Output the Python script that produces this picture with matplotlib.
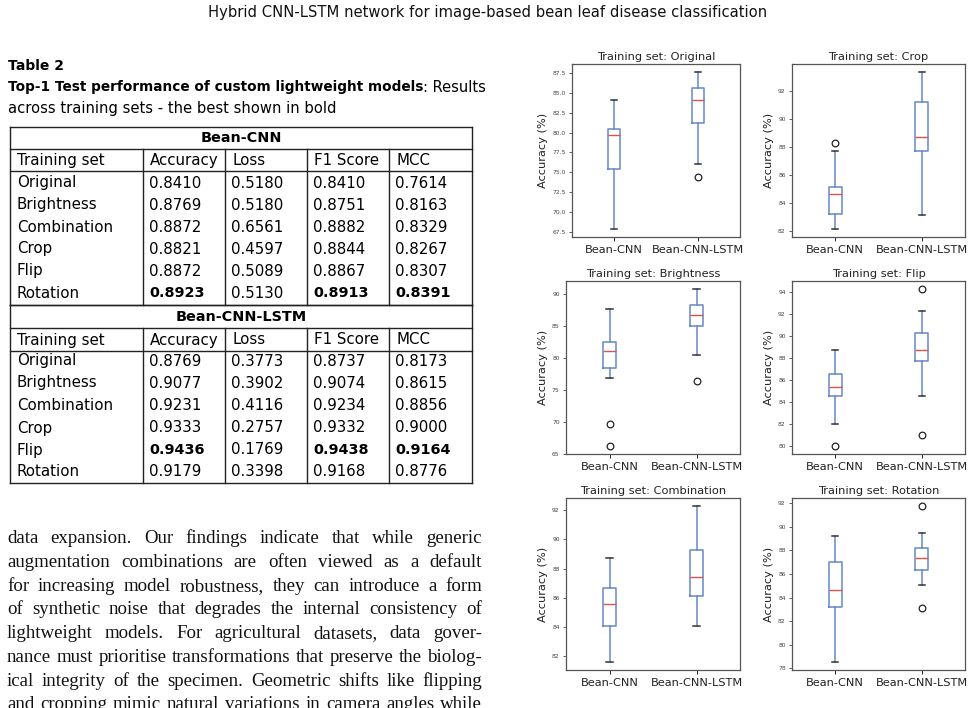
import matplotlib
matplotlib.use('Agg')
import matplotlib.pyplot as plt

W, H = 976, 708

# ---------------- text content ----------------
header = "Hybrid CNN-LSTM network for image-based bean leaf disease classification"
table_label = "Table 2"
caption_bold = "Top-1 Test performance of custom lightweight models"
caption_rest = ": Results"
caption_line2 = "across training sets - the best shown in bold"

training_sets = ["Original", "Brightness", "Combination", "Crop", "Flip", "Rotation"]
columns = ["Training set", "Accuracy", "Loss", "F1 Score", "MCC"]
cnn_accuracy = [0.8410, 0.8769, 0.8872, 0.8821, 0.8872, 0.8923]
cnn_loss = [0.5180, 0.5180, 0.6561, 0.4597, 0.5089, 0.5130]
cnn_f1 = [0.8410, 0.8751, 0.8882, 0.8844, 0.8867, 0.8913]
cnn_mcc = [0.7614, 0.8163, 0.8329, 0.8267, 0.8307, 0.8391]
lstm_accuracy = [0.8769, 0.9077, 0.9231, 0.9333, 0.9436, 0.9179]
lstm_loss = [0.3773, 0.3902, 0.4116, 0.2757, 0.1769, 0.3398]
lstm_f1 = [0.8737, 0.9074, 0.9234, 0.9332, 0.9438, 0.9168]
lstm_mcc = [0.8173, 0.8615, 0.8856, 0.9000, 0.9164, 0.8776]

body_lines = [
    "data expansion. Our findings indicate that while generic",
    "augmentation combinations are often viewed as a default",
    "for increasing model robustness, they can introduce a form",
    "of synthetic noise that degrades the internal consistency of",
    "lightweight models. For agricultural datasets, data gover-",
    "nance must prioritise transformations that preserve the biolog-",
    "ical integrity of the specimen. Geometric shifts like flipping",
    "and cropping mimic natural variations in camera angles while",
]

# ---------------- boxplot data ----------------
models = ["Bean-CNN", "Bean-CNN-LSTM"]
panel_sets = ["Original", "Crop", "Brightness", "Flip", "Combination", "Rotation"]
cnn_whislo = [67.8, 82.1, 76.9, 82.0, 81.6, 78.5]
cnn_q1 = [75.4, 83.2, 78.5, 84.6, 84.1, 83.2]
cnn_med = [79.7, 84.6, 81.1, 85.4, 85.6, 84.6]
cnn_q3 = [80.5, 85.1, 82.5, 86.6, 86.7, 87.0]
cnn_whishi = [84.1, 87.7, 87.7, 88.7, 88.7, 89.2]
cnn_fliers = [[], [88.3], [69.7, 66.2], [80.0], [], []]
lstm_whislo = [76.0, 83.1, 80.5, 84.6, 84.1, 85.1]
lstm_q1 = [81.2, 87.7, 85.0, 87.7, 86.1, 86.3]
lstm_med = [84.1, 88.7, 86.7, 88.7, 87.4, 87.4]
lstm_q3 = [85.6, 91.2, 88.3, 90.3, 89.3, 88.2]
lstm_whishi = [87.7, 93.4, 90.8, 92.3, 92.3, 89.5]
lstm_fliers = [[74.4], [], [76.4], [94.3, 81.0], [], [91.8, 83.1]]
tick_steps = [2.5, 2, 5, 2, 2, 2]

# ---------------- figure ----------------
fig = plt.figure(figsize=(W / 100, H / 100), dpi=100)
bg = fig.add_axes([0, 0, 1, 1])
bg.set_xlim(0, W)
bg.set_ylim(H, 0)
bg.axis('off')
renderer = fig.canvas.get_renderer()

SANS = 'DejaVu Sans'
SERIF = 'Liberation Serif'

bg.text(488, 13, header, ha='center', va='center', fontsize=10.6, family=SANS, color='#111')

# caption
bg.text(8, 66, table_label, ha='left', va='center', fontsize=10, family=SANS, weight='bold')
t = bg.text(8, 87, caption_bold, ha='left', va='center', fontsize=9.8, family=SANS, weight='bold')
w = t.get_window_extent(renderer).width
bg.text(8 + w, 87, caption_rest, ha='left', va='center', fontsize=10.5, family=SANS)
bg.text(8, 108, caption_line2, ha='left', va='center', fontsize=10.6, family=SANS)

# table
col_x = [10, 143, 225, 307, 389, 472]
tfs = 10.8
lw = 1.0
lc = '#222'

def draw_section(top, title, rows_y, bottom, values, title_line, head_line):
    bg.plot([col_x[0], col_x[-1]], [top, top], color=lc, lw=lw)
    bg.plot([col_x[0], col_x[-1]], [title_line, title_line], color=lc, lw=lw)
    bg.plot([col_x[0], col_x[-1]], [head_line, head_line], color=lc, lw=lw)
    bg.plot([col_x[0], col_x[-1]], [bottom, bottom], color=lc, lw=lw)
    bg.plot([col_x[0], col_x[0]], [top, bottom], color=lc, lw=lw)
    bg.plot([col_x[-1], col_x[-1]], [top, bottom], color=lc, lw=lw)
    for cx in col_x[1:-1]:
        bg.plot([cx, cx], [title_line, bottom], color=lc, lw=lw)
    bg.text((col_x[0] + col_x[-1]) / 2, (top + title_line) / 2 + 0.5, title, ha='center',
            va='center', fontsize=tfs - 0.4, family=SANS, weight='bold')
    for j, c in enumerate(columns):
        bg.text(col_x[j] + 7, (title_line + head_line) / 2 + 0.5, c, ha='left', va='center',
                fontsize=tfs, family=SANS)
    best = [max(v) if j != 1 else None for j, v in enumerate(values)]
    for i, name in enumerate(training_sets):
        y = rows_y[i]
        bg.text(col_x[0] + 7, y, name, ha='left', va='center', fontsize=tfs, family=SANS)
        for j, v in enumerate(values):
            bold = best[j] is not None and v[i] == best[j]
            bg.text(col_x[j + 1] + 6, y, f"{v[i]:.4f}", ha='left', va='center',
                    fontsize=tfs - (0.4 if bold else 0), family=SANS,
                    weight='bold' if bold else 'normal')

draw_section(127, "Bean-CNN", [183, 205, 227, 249, 271, 293], 305,
             [cnn_accuracy, cnn_loss, cnn_f1, cnn_mcc], 149, 171)
draw_section(305, "Bean-CNN-LSTM", [361, 383, 406, 428, 450, 472], 483,
             [lstm_accuracy, lstm_loss, lstm_f1, lstm_mcc], 328, 351)

# justified body text
x0, x1 = 7, 482
line_y = [538, 562, 586, 609, 633, 657, 681, 704]
for line, y in zip(body_lines, line_y):
    words = line.split()
    texts = [bg.text(0, y + 5, wd, fontsize=13.6, family=SERIF, va='baseline', color='#111')
             for wd in words]
    widths = [tt.get_window_extent(renderer).width for tt in texts]
    gap = (x1 - x0 - sum(widths)) / (len(words) - 1)
    x = x0
    for tt, wd in zip(texts, widths):
        tt.set_x(x)
        x += wd + gap

# boxplots
boxes_px = [
    (572, 64, 740, 237), (792, 64, 965, 237),
    (566, 281, 740, 454), (792, 281, 965, 454),
    (566, 498, 740, 670), (792, 498, 965, 670),
]
blue = '#6688c6'
red = '#d9534f'
for i, name in enumerate(panel_sets):
    l, t_, r, b = boxes_px[i]
    ax = fig.add_axes([l / W, 1 - b / H, (r - l) / W, (b - t_) / H])
    stats = [
        dict(whislo=cnn_whislo[i], q1=cnn_q1[i], med=cnn_med[i], q3=cnn_q3[i],
             whishi=cnn_whishi[i], fliers=cnn_fliers[i], label=models[0]),
        dict(whislo=lstm_whislo[i], q1=lstm_q1[i], med=lstm_med[i], q3=lstm_q3[i],
             whishi=lstm_whishi[i], fliers=lstm_fliers[i], label=models[1]),
    ]
    ax.bxp(stats, positions=[1, 2], widths=0.15,
           boxprops=dict(color=blue, lw=1.1),
           whiskerprops=dict(color=blue, lw=1.1),
           capprops=dict(color='#333', lw=1.1),
           medianprops=dict(color=red, lw=1.0),
           flierprops=dict(marker='o', markerfacecolor='none', markeredgecolor='#222',
                           markersize=4.8, markeredgewidth=0.9))
    ax.yaxis.set_major_locator(matplotlib.ticker.MultipleLocator(tick_steps[i]))
    ax.set_title(f"Training set: {name}", fontsize=8.2, pad=3, color='#222')
    ax.set_ylabel("Accuracy (%)", fontsize=8.2, color='#222', labelpad=3)
    ax.tick_params(axis='y', labelsize=4.3, length=2.5, width=0.6, pad=2, colors='#444')
    ax.tick_params(axis='x', labelsize=8.2, length=3, width=0.7, pad=3, colors='#222')
    for sp in ax.spines.values():
        sp.set_color('#555')
        sp.set_linewidth(0.9)

fig.savefig('out.png', dpi=100)
